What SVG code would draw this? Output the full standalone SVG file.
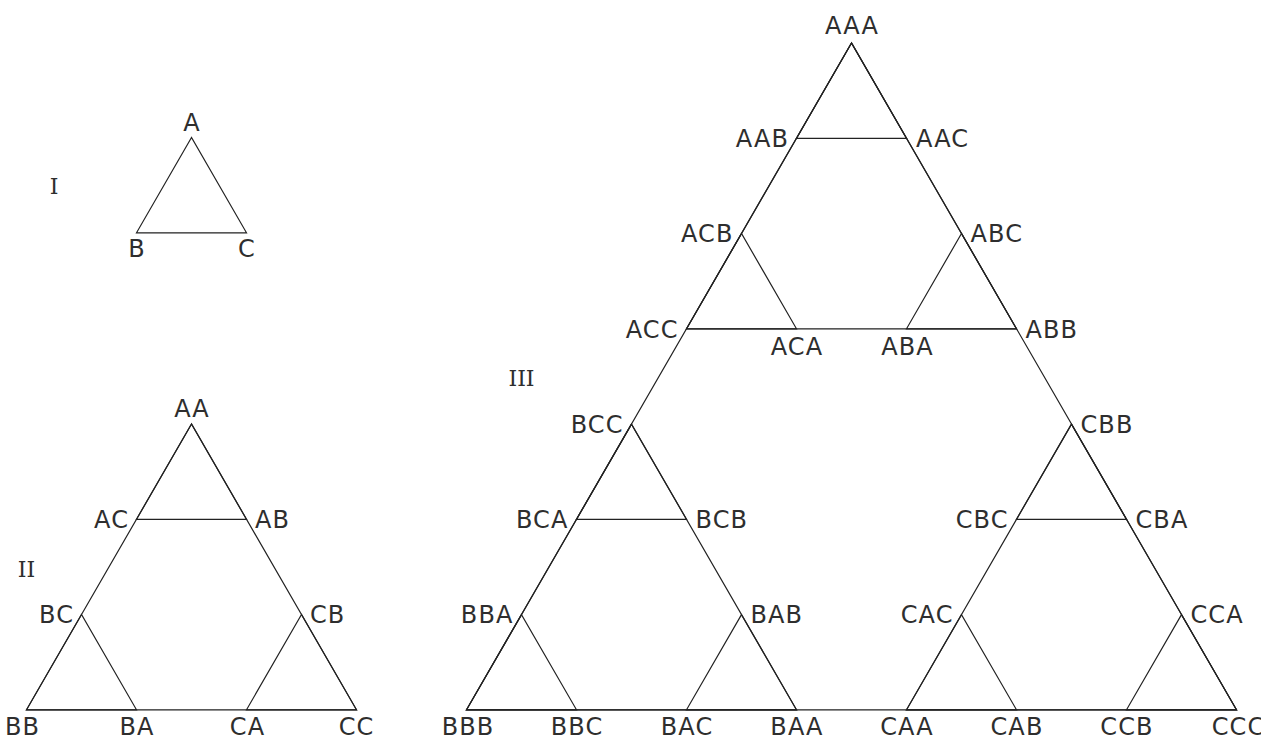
<svg xmlns="http://www.w3.org/2000/svg" width="1261" height="738" viewBox="0 0 1261 738">
  <style>
    .edge { fill: none; stroke: #222; stroke-width: 1.2; stroke-linejoin: miter; }
    .lbl { font-family: "DejaVu Sans", Verdana, sans-serif; font-size: 24px; letter-spacing: 1.1px; fill: #2e2e2e; }
    .top, .bot { text-anchor: middle; }
    .lft { text-anchor: end; }
    .rgt { text-anchor: start; }
    .num { font-family: "DejaVu Serif", "Liberation Serif", serif; font-size: 22px; fill: #2e2e2e; text-anchor: middle; }
  </style>
  <rect width="1261" height="738" fill="#fff"/>

  <!-- level numerals -->
  <text class="num" x="54" y="194">I</text>
  <text class="num" x="26.5" y="577">II</text>
  <text class="num" x="521.5" y="386">III</text>

  <!-- edges: outlines, sub-outlines and unit triangles overlap on purpose -->
  <g id="connectors">
    <!-- level I -->
    <polygon class="edge" points="191.5,137.5 136.5,232.8 246.5,232.8"/>
    <!-- level II -->
    <polygon class="edge" points="191.5,424 26.5,709.8 356.5,709.8"/>
    <polygon class="edge" points="191.5,424 136.5,519.3 246.5,519.3"/>
    <polygon class="edge" points="81.5,614.5 26.5,709.8 136.5,709.8"/>
    <polygon class="edge" points="301.5,614.5 246.5,709.8 356.5,709.8"/>
    <!-- level III outline -->
    <polygon class="edge" points="851.5,43 466.5,709.8 1236.5,709.8"/>
    <!-- level III sub-outlines -->
    <polygon class="edge" points="851.5,43 686.5,328.8 1016.5,328.8"/>
    <polygon class="edge" points="631.5,424.1 466.5,709.8 796.5,709.8"/>
    <polygon class="edge" points="1071.5,424.1 906.5,709.8 1236.5,709.8"/>
    <!-- level III unit triangles -->
    <polygon class="edge" points="851.5,43 796.5,138.3 906.5,138.3"/>
    <polygon class="edge" points="741.5,233.5 686.5,328.8 796.5,328.8"/>
    <polygon class="edge" points="961.5,233.5 906.5,328.8 1016.5,328.8"/>
    <polygon class="edge" points="631.5,424.1 576.5,519.3 686.5,519.3"/>
    <polygon class="edge" points="521.5,614.6 466.5,709.8 576.5,709.8"/>
    <polygon class="edge" points="741.5,614.6 686.5,709.8 796.5,709.8"/>
    <polygon class="edge" points="1071.5,424.1 1016.5,519.3 1126.5,519.3"/>
    <polygon class="edge" points="961.5,614.6 906.5,709.8 1016.5,709.8"/>
    <polygon class="edge" points="1181.5,614.6 1126.5,709.8 1236.5,709.8"/>
  </g>

  <!-- level I vertices -->
  <g id="n1-A"><text class="lbl top" x="192" y="130.7">A</text></g>
  <g id="n1-B"><text class="lbl bot" x="137" y="257">B</text></g>
  <g id="n1-C"><text class="lbl bot" x="247" y="257">C</text></g>

  <!-- level II vertices -->
  <g id="n2-AA"><text class="lbl top" x="192" y="416.7">AA</text></g>
  <g id="n2-AC"><text class="lbl lft" x="129" y="528">AC</text></g>
  <g id="n2-AB"><text class="lbl rgt" x="255" y="528">AB</text></g>
  <g id="n2-BC"><text class="lbl lft" x="74" y="623.3">BC</text></g>
  <g id="n2-CB"><text class="lbl rgt" x="310" y="623.3">CB</text></g>
  <g id="n2-BB"><text class="lbl bot" x="22.5" y="735.3">BB</text></g>
  <g id="n2-BA"><text class="lbl bot" x="137" y="735.3">BA</text></g>
  <g id="n2-CA"><text class="lbl bot" x="247.5" y="735.3">CA</text></g>
  <g id="n2-CC"><text class="lbl bot" x="356.5" y="735.3">CC</text></g>

  <!-- level III vertices -->
  <g id="n3-AAA"><text class="lbl top" x="852" y="34.3">AAA</text></g>
  <g id="n3-AAB"><text class="lbl lft" x="789" y="147">AAB</text></g>
  <g id="n3-AAC"><text class="lbl rgt" x="916" y="147">AAC</text></g>
  <g id="n3-ACB"><text class="lbl lft" x="733.5" y="242.3">ACB</text></g>
  <g id="n3-ABC"><text class="lbl rgt" x="970.5" y="242.3">ABC</text></g>
  <g id="n3-ACC"><text class="lbl lft" x="678.5" y="337.8">ACC</text></g>
  <g id="n3-ACA"><text class="lbl bot" x="797" y="355">ACA</text></g>
  <g id="n3-ABA"><text class="lbl bot" x="907.5" y="355">ABA</text></g>
  <g id="n3-ABB"><text class="lbl rgt" x="1025.5" y="337.8">ABB</text></g>
  <g id="n3-BCC"><text class="lbl lft" x="623.5" y="432.8">BCC</text></g>
  <g id="n3-CBB"><text class="lbl rgt" x="1080.5" y="432.8">CBB</text></g>
  <g id="n3-BCA"><text class="lbl lft" x="568.5" y="528">BCA</text></g>
  <g id="n3-BCB"><text class="lbl rgt" x="695.5" y="528">BCB</text></g>
  <g id="n3-CBC"><text class="lbl lft" x="1008.5" y="528">CBC</text></g>
  <g id="n3-CBA"><text class="lbl rgt" x="1135.5" y="528">CBA</text></g>
  <g id="n3-BBA"><text class="lbl lft" x="513.5" y="623.3">BBA</text></g>
  <g id="n3-BAB"><text class="lbl rgt" x="750.5" y="623.3">BAB</text></g>
  <g id="n3-CAC"><text class="lbl lft" x="953.5" y="623.3">CAC</text></g>
  <g id="n3-CCA"><text class="lbl rgt" x="1190.5" y="623.3">CCA</text></g>
  <g id="n3-BBB"><text class="lbl bot" x="468" y="735.3">BBB</text></g>
  <g id="n3-BBC"><text class="lbl bot" x="577" y="735.3">BBC</text></g>
  <g id="n3-BAC"><text class="lbl bot" x="687" y="735.3">BAC</text></g>
  <g id="n3-BAA"><text class="lbl bot" x="797" y="735.3">BAA</text></g>
  <g id="n3-CAA"><text class="lbl bot" x="907" y="735.3">CAA</text></g>
  <g id="n3-CAB"><text class="lbl bot" x="1017" y="735.3">CAB</text></g>
  <g id="n3-CCB"><text class="lbl bot" x="1127" y="735.3">CCB</text></g>
  <g id="n3-CCC"><text class="lbl bot" x="1238.5" y="735.3">CCC</text></g>
</svg>
